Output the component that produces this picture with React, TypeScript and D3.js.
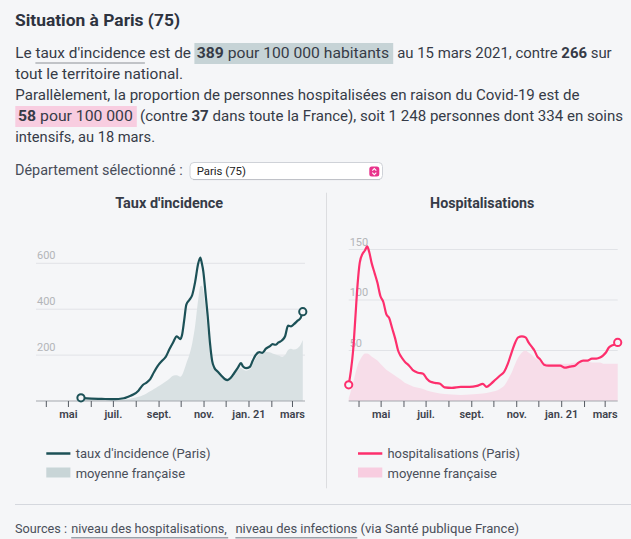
import React, { useLayoutEffect } from "react";
import * as d3 from "d3";

// ---------- DATA ----------
const incDates = [
  "2020-05-18","2020-06-01","2020-06-15","2020-07-01","2020-07-15","2020-07-22","2020-07-28",
  "2020-08-04","2020-08-10","2020-08-15","2020-08-20","2020-08-25","2020-08-30","2020-09-05",
  "2020-09-10","2020-09-15","2020-09-20","2020-09-25","2020-09-30","2020-10-02","2020-10-05",
  "2020-10-08","2020-10-12","2020-10-16","2020-10-20","2020-10-24","2020-10-27","2020-10-29",
  "2020-10-31","2020-11-03","2020-11-06","2020-11-09","2020-11-12","2020-11-15","2020-11-19",
  "2020-11-24","2020-11-29","2020-12-03","2020-12-07","2020-12-12","2020-12-17","2020-12-21",
  "2020-12-24","2020-12-28","2021-01-02","2021-01-06","2021-01-10","2021-01-15","2021-01-19",
  "2021-01-24","2021-01-29","2021-02-02","2021-02-06","2021-02-10","2021-02-15","2021-02-19",
  "2021-02-23","2021-02-27","2021-03-03","2021-03-08","2021-03-12","2021-03-15",
];
const incParis = [
  14,10,9,8,12,20,28,
  45,70,80,95,125,152,175,
  192,225,255,282,270,285,350,
  420,440,462,520,598,625,600,
  565,470,370,255,175,145,130,
  112,96,91,100,122,145,165,
  150,143,148,175,200,213,210,
  228,238,248,245,255,265,282,
  328,325,335,350,362,389,
];
const incFrance = [
  5,5,5,5,7,9,13,
  18,25,33,42,52,62,74,
  85,97,110,112,106,112,135,
  164,200,252,330,440,500,502,
  480,400,305,220,170,140,124,
  112,104,99,104,125,136,145,
  138,132,138,160,185,205,210,
  214,212,207,203,198,193,200,
  222,228,224,230,245,266,
];

const hospDates = [
  "2020-03-18","2020-03-21","2020-03-24","2020-03-27","2020-03-30","2020-04-02","2020-04-06",
  "2020-04-09","2020-04-12","2020-04-15","2020-04-18","2020-04-22","2020-04-26","2020-04-30",
  "2020-05-04","2020-05-08","2020-05-12","2020-05-16","2020-05-20","2020-05-24","2020-05-28",
  "2020-06-02","2020-06-08","2020-06-14","2020-06-20","2020-06-27","2020-07-02","2020-07-07",
  "2020-07-13","2020-07-20","2020-07-26","2020-08-05","2020-08-17","2020-08-29","2020-09-08",
  "2020-09-16","2020-09-21","2020-09-27","2020-10-03","2020-10-09","2020-10-15","2020-10-20",
  "2020-10-25","2020-10-30","2020-11-03","2020-11-08","2020-11-13","2020-11-17","2020-11-21",
  "2020-11-25","2020-11-29","2020-12-03","2020-12-08","2020-12-14","2020-12-22","2020-12-30",
  "2021-01-05","2021-01-12","2021-01-19","2021-01-24","2021-01-30","2021-02-05","2021-02-11",
  "2021-02-17","2021-02-22","2021-02-26","2021-03-02","2021-03-06","2021-03-10","2021-03-14",
  "2021-03-18",
];
const hospParis = [
  16,30,50,82,115,137,146,
  149,153,147,137,127,117,104,
  98,86,82,72,62,50,44,
  39,35,30,28,27,22,19,
  18,17,13.5,13,14,14,15,
  17,14,17,21,25,29,37,
  48,58,63,64,63,58,54,
  50,44,41,36,35,35,35,
  33,34,35,38,40,40,42,
  42,43,45,48,53,55,56,
  58,
];
const hospFrance = [
  3,10,18,27,35,40,45,
  47,47,46,44,42,40,37,
  34,31,29,27,25,23,21,
  18,16,14,13,12,10.5,9.5,
  8.5,7.5,7,6.5,6,6.5,7,
  7.5,8,9,10,12,15,21,
  28,37,43,48,50,48,46,
  43,41,39,38,37,37,37,
  37,37,38,38,39,39,38,
  38,38,37,37,37,37,37,
  37,
];

const incTicks = [200, 400, 600];
const hospTicks = [50, 100, 150];
const tickLabelDates = ["2020-05-01","2020-07-01","2020-09-01","2020-11-01","2021-01-01","2021-03-01"];
const tickLabels = ["mai","juil.","sept.","nov.","jan. 21","mars"];

// ---------- STYLE ----------
const BG = "#f5f6f8";
const FONT = "Roboto, 'Noto Sans', sans-serif";
const TEXT = "#363b47";
const TEAL = "#1c5157";
const TEAL_AREA = "#d9e1e3";
const TEAL_SW = "#c8d5d7";
const PINK = "#fd2f6d";
const PINK_AREA = "#f7dde9";
const PINK_SW = "#f8cde0";

const parse = d3.timeParse("%Y-%m-%d") as (s: string) => Date;
const xDomain: [Date, Date] = [parse("2020-03-18"), parse("2021-03-18")];
const monthTicks = d3.timeMonth.range(parse("2020-04-01"), parse("2021-03-02"));

type PanelProps = {
  left: number; right: number; yMax: number; yTop: number; base: number;
  yTicks: number[]; dates: string[]; paris: number[]; france: number[];
  line: string; area: string;
};

function Panel(p: PanelProps) {
  const x = d3.scaleTime().domain(xDomain).range([p.left, p.right]);
  const y = d3.scaleLinear().domain([0, p.yMax]).range([p.base, p.yTop]);
  const pts = p.dates.map(parse);
  const areaGen = d3.area<number>()
    .x((_, i) => x(pts[i]))
    .y0(y(0))
    .y1((d) => y(d))
    .curve(d3.curveMonotoneX);
  const lineGen = d3.line<number>()
    .x((_, i) => x(pts[i]))
    .y((d) => y(d))
    .curve(d3.curveMonotoneX);
  const n = pts.length - 1;
  return (
    <g>
      {p.yTicks.map((t) => (
        <g key={t}>
          <line x1={p.left} x2={p.right} y1={y(t)} y2={y(t)} stroke="#e1e3e7" strokeWidth={1} />
          <text x={p.left + 1} y={y(t) - 4} fontSize={11} fill="#b3b5b9" fontFamily={FONT}>{t}</text>
        </g>
      ))}
      <path d={areaGen(p.france) || ""} fill={p.area} />
      <line x1={p.left} x2={p.right} y1={y(0)} y2={y(0)} stroke="#a3a7ad" strokeWidth={1} />
      {monthTicks.map((d, i) => (
        <line key={i} x1={x(d)} x2={x(d)} y1={y(0)} y2={y(0) + 6} stroke="#555a62" strokeWidth={1} />
      ))}
      {tickLabelDates.map((s, i) => (
        <text key={s} x={x(parse(s))} y={417.5} textAnchor="middle" fontSize={11} fontWeight={600}
          fill="#3d424c" fontFamily={FONT}>{tickLabels[i]}</text>
      ))}
      <path d={lineGen(p.paris) || ""} fill="none" stroke={p.line} strokeWidth={2.2}
        strokeLinejoin="round" strokeLinecap="round" />
      <circle cx={x(pts[0])} cy={y(p.paris[0])} r={3.6} fill={BG} stroke={p.line} strokeWidth={2} />
      <circle cx={x(pts[n])} cy={y(p.paris[n])} r={3.6} fill={BG} stroke={p.line} strokeWidth={2} />
    </g>
  );
}

function T(props: any) {
  const { children, ...rest } = props;
  return (
    <text fontFamily={FONT} fill={TEXT} lengthAdjust="spacingAndGlyphs" {...rest}>{children}</text>
  );
}

export default function App() {
  useLayoutEffect(() => {
    document.body.style.margin = "0";
    document.body.style.background = BG;
  }, []);
  return (
    <svg width={631} height={539} style={{ display: "block", background: BG }}>
      <rect x={0} y={0} width={631} height={539} fill={BG} />
      {/* Title */}
      <T x={15} y={26} fontSize={17} fontWeight={700} fill="#2e333f" textLength={165}>Situation à Paris (75)</T>

      {/* Paragraph */}
      <rect x={194.4} y={43} width={198.8} height={21} fill="#c6d3d6" />
      <rect x={15.3} y={106} width={121.5} height={21} fill={PINK_SW} />
      <line x1={35.4} x2={144.9} y1={63} y2={63} stroke="#8c9096" strokeWidth={1} />

      <T x={15.3} y={58} fontSize={15} textLength={175.7}>Le taux d'incidence est de</T>
      <T x={196.8} y={58} fontSize={15} textLength={192.3}><tspan fontWeight={700}>389</tspan> pour 100 000 habitants</T>
      <T x={397.2} y={58} fontSize={15} textLength={214.5}>au 15 mars 2021, contre <tspan fontWeight={700}>266</tspan> sur</T>
      <T x={15.3} y={79} fontSize={15} textLength={167.8}>tout le territoire national.</T>
      <T x={15.3} y={100} fontSize={15} textLength={564.2}>Parallèlement, la proportion de personnes hospitalisées en raison du Covid-19 est de</T>
      <T x={18.1} y={121} fontSize={15} textLength={114.7}><tspan fontWeight={700}>58</tspan> pour 100 000</T>
      <T x={140} y={121} fontSize={15} textLength={483}>(contre <tspan fontWeight={700}>37</tspan> dans toute la France), soit 1 248 personnes dont 334 en soins</T>
      <T x={15.3} y={142} fontSize={15} textLength={139.7}>intensifs, au 18 mars.</T>

      {/* Select */}
      <T x={15} y={175} fontSize={14.5} fill="#484d59" textLength={167.7}>Département sélectionné :</T>
      <rect x={190} y={162.5} width={192.5} height={17} rx={4} fill="#ffffff" stroke="#cfd2d8" strokeWidth={1} />
      <line x1={193} x2={380} y1={179.6} y2={179.6} stroke="#b9bcc2" strokeWidth={0.8} />
      <T x={196.7} y={175} fontSize={11} fill="#222" textLength={49.3}>Paris (75)</T>
      <rect x={369.3} y={166.5} width={10} height={10} rx={2.5} fill="#e8338c" />
      <path d="M372.3,170.6 L374.3,168.6 L376.3,170.6 M372.3,172.6 L374.3,174.6 L376.3,172.6"
        fill="none" stroke="#fff" strokeWidth={1.1} />

      {/* Chart titles */}
      <T x={169.2} y={207.5} fontSize={14} fontWeight={700} textAnchor="middle" textLength={108}>Taux d'incidence</T>
      <T x={482.2} y={207.5} fontSize={14} fontWeight={700} textAnchor="middle" textLength={104.3}>Hospitalisations</T>

      {/* Divider */}
      <line x1={326.5} x2={326.5} y1={192.7} y2={488.3} stroke="#dcdde0" strokeWidth={1} />

      <Panel left={36} right={305} yMax={600} yTop={263.3} base={401} yTicks={incTicks}
        dates={incDates} paris={incParis} france={incFrance} line={TEAL} area={TEAL_AREA} />
      <Panel left={348.7} right={617.7} yMax={150} yTop={249.5} base={401} yTicks={hospTicks}
        dates={hospDates} paris={hospParis} france={hospFrance} line={PINK} area={PINK_AREA} />

      {/* Legends */}
      <line x1={46.3} x2={70.4} y1={453.5} y2={453.5} stroke={TEAL} strokeWidth={2.5} />
      <T x={75.7} y={458} fontSize={13} fill="#4a4f5a" textLength={134.8}>taux d'incidence (Paris)</T>
      <rect x={46.3} y={467.5} width={24.1} height={10} fill={TEAL_SW} />
      <T x={75.7} y={478} fontSize={13} fill="#4a4f5a" textLength={109.4}>moyenne française</T>

      <line x1={358} x2={382.3} y1={453.5} y2={453.5} stroke={PINK} strokeWidth={2.5} />
      <T x={387.5} y={458} fontSize={13} fill="#4a4f5a" textLength={132.5}>hospitalisations (Paris)</T>
      <rect x={358} y={467.5} width={24.3} height={10} fill={PINK_SW} />
      <T x={387.5} y={478} fontSize={13} fill="#4a4f5a" textLength={109.5}>moyenne française</T>

      {/* Bottom divider */}
      <line x1={15} x2={631} y1={504.5} y2={504.5} stroke="#d5d8de" strokeWidth={1} />

      {/* Sources */}
      <T x={15} y={533} fontSize={13} fill="#4a4f5a" textLength={52}>Sources :</T>
      <T x={71.2} y={533} fontSize={13} fill="#4a4f5a" textLength={155.5}>niveau des hospitalisations,</T>
      <line x1={71.2} x2={228.2} y1={537.8} y2={537.8} stroke="#9aa0a8" strokeWidth={1.4} />
      <T x={235.4} y={533} fontSize={13} fill="#4a4f5a" textLength={121.9}>niveau des infections</T>
      <line x1={235.4} x2={357.3} y1={537.8} y2={537.8} stroke="#9aa0a8" strokeWidth={1.4} />
      <T x={360.5} y={533} fontSize={13} fill="#4a4f5a" textLength={158.5}>(via Santé publique France)</T>
    </svg>
  );
}
